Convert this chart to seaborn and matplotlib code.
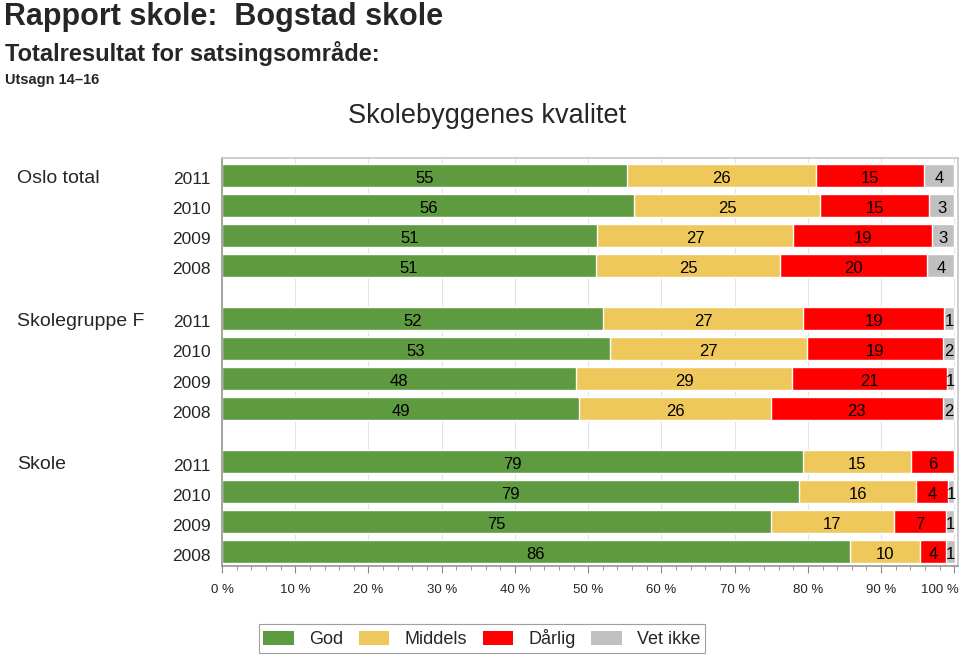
import pandas as pd
import seaborn as sns
import matplotlib.pyplot as plt
import matplotlib.transforms as mtrans
from matplotlib.patches import Patch
from matplotlib.ticker import MultipleLocator

# data (percent per answer category)
groups = ["Oslo total", "Skolegruppe F", "Skole"]
years = ["2011", "2010", "2009", "2008"]
categories = ["God", "Middels", "Dårlig", "Vet ikke"]
god = [55.3, 56.3, 51.2, 51.1, 52.0, 53.0, 48.4, 48.8, 79.4, 78.8, 75.0, 85.7]
middels = [25.8, 25.4, 26.8, 25.1, 27.4, 26.9, 29.4, 26.2, 14.7, 16.0, 16.7, 9.6]
darlig = [14.7, 14.9, 19.0, 20.1, 19.2, 18.6, 21.2, 23.4, 5.9, 4.4, 7.1, 3.6]
vet_ikke = [4.2, 3.4, 3.0, 3.7, 1.4, 1.6, 1.0, 1.6, 0.0, 0.8, 1.2, 1.2]
xticks = list(range(0, 101, 10))

colors = ["#5e9a40", "#efc85c", "#ff0000", "#c0c0c0"]

sns.set_theme(style="white")
plt.rcParams['font.family'] = ['Liberation Sans', 'DejaVu Sans']

# row positions: four years per group, a gap between groups
gap = 1.77
rows = []
for g, grp in enumerate(groups):
    for j, yr in enumerate(years):
        rows.append((grp, yr, g * (3 + gap) + j))
df = pd.DataFrame(rows, columns=["group", "year", "pos"])
df["God"], df["Middels"], df["Dårlig"], df["Vet ikke"] = god, middels, darlig, vet_ikke

cum = df[categories].cumsum(axis=1)

fig = plt.figure(figsize=(9.6, 6.56), dpi=100)
ax = fig.add_axes([222 / 960, 1 - 566 / 656, 736 / 960, 408 / 656])

# stacked bars: draw cumulative totals from the back to the front
for cat, col in reversed(list(zip(categories, colors))):
    sns.barplot(x=cum[cat], y=df["pos"], orient="h", native_scale=True,
                color=col, saturation=1, width=0.77, errorbar=None,
                ax=ax, zorder=2)

# texts sit a little below the bar centre in the reference
down = mtrans.ScaledTranslation(0, -3 / 100, fig.dpi_scale_trans)

# value labels centred in each segment
for i in range(len(df)):
    left = 0
    for cat in categories:
        v = df.loc[i, cat]
        if v >= 0.5:
            ax.text(left + v / 2, df.loc[i, "pos"], f"{v:.0f}", ha="center",
                    va="center", fontsize=12, color="black", zorder=3,
                    transform=ax.transData + down)
        left += v

ax.set_xlim(0, 100.5)
ax.set_ylim(df["pos"].max() + 0.47, -0.57)
ax.set_yticks(df["pos"])
ax.set_yticklabels(df["year"], fontsize=12.5)
ax.tick_params(axis="y", length=0, pad=8)
for lbl in ax.get_yticklabels():
    lbl.set_transform(lbl.get_transform() + down)
ax.set_xlabel("")
ax.set_ylabel("")

ax.set_xticks(xticks)
ax.set_xticklabels([f"{t} %" for t in xticks])
ax.xaxis.set_minor_locator(MultipleLocator(2))
ax.tick_params(axis="x", which="major", bottom=True, length=5, width=0.8,
               color="#888888", labelsize=9.5, pad=8)
ax.tick_params(axis="x", which="minor", bottom=True, length=3, width=0.6,
               color="#888888")
last = ax.get_xticklabels()[-1]
last.set_ha("right")
last.set_transform(last.get_transform() + mtrans.ScaledTranslation(4 / 100, 0, fig.dpi_scale_trans))
ax.grid(axis="x", color="#e4e4e4", linewidth=0.8, zorder=0)
ax.set_axisbelow(True)
for side in ["top", "right"]:
    ax.spines[side].set_color("#c8c8c8")
for side in ["left", "bottom"]:
    ax.spines[side].set_color("#999999")

# group labels: figure x, data y
blend = mtrans.blended_transform_factory(fig.transFigure, ax.transData)
for g, grp in enumerate(groups):
    fig.text(17 / 960, df.loc[g * 4, "pos"], grp, fontsize=14, va="center",
             ha="left", transform=blend + down)

# titles
fig.text(4 / 960, 1 - 2 / 656, "Rapport skole:  Bogstad skole", fontsize=22,
         fontweight="bold", va="top", ha="left")
fig.text(5 / 960, 1 - 41 / 656, "Totalresultat for satsingsområde:", fontsize=17,
         fontweight="bold", va="top", ha="left")
fig.text(5 / 960, 1 - 73 / 656, "Utsagn 14–16", fontsize=10.5,
         fontweight="bold", va="top", ha="left")
fig.text(487 / 960, 1 - 103 / 656, "Skolebyggenes kvalitet", fontsize=19.5,
         va="top", ha="center")

handles = [Patch(facecolor=c, edgecolor="none", label=l) for c, l in zip(colors, categories)]
leg = fig.legend(handles=handles, loc="center", bbox_to_anchor=(482 / 960, 1 - 638.5 / 656),
                 ncol=4, fontsize=13, frameon=True, fancybox=False,
                 handlelength=1.7, handleheight=0.8, handletextpad=0.85,
                 columnspacing=0.85, borderpad=0.25)
leg.get_frame().set_edgecolor("#888888")
leg.get_frame().set_linewidth(0.8)

fig.savefig("out.png", dpi=100)
